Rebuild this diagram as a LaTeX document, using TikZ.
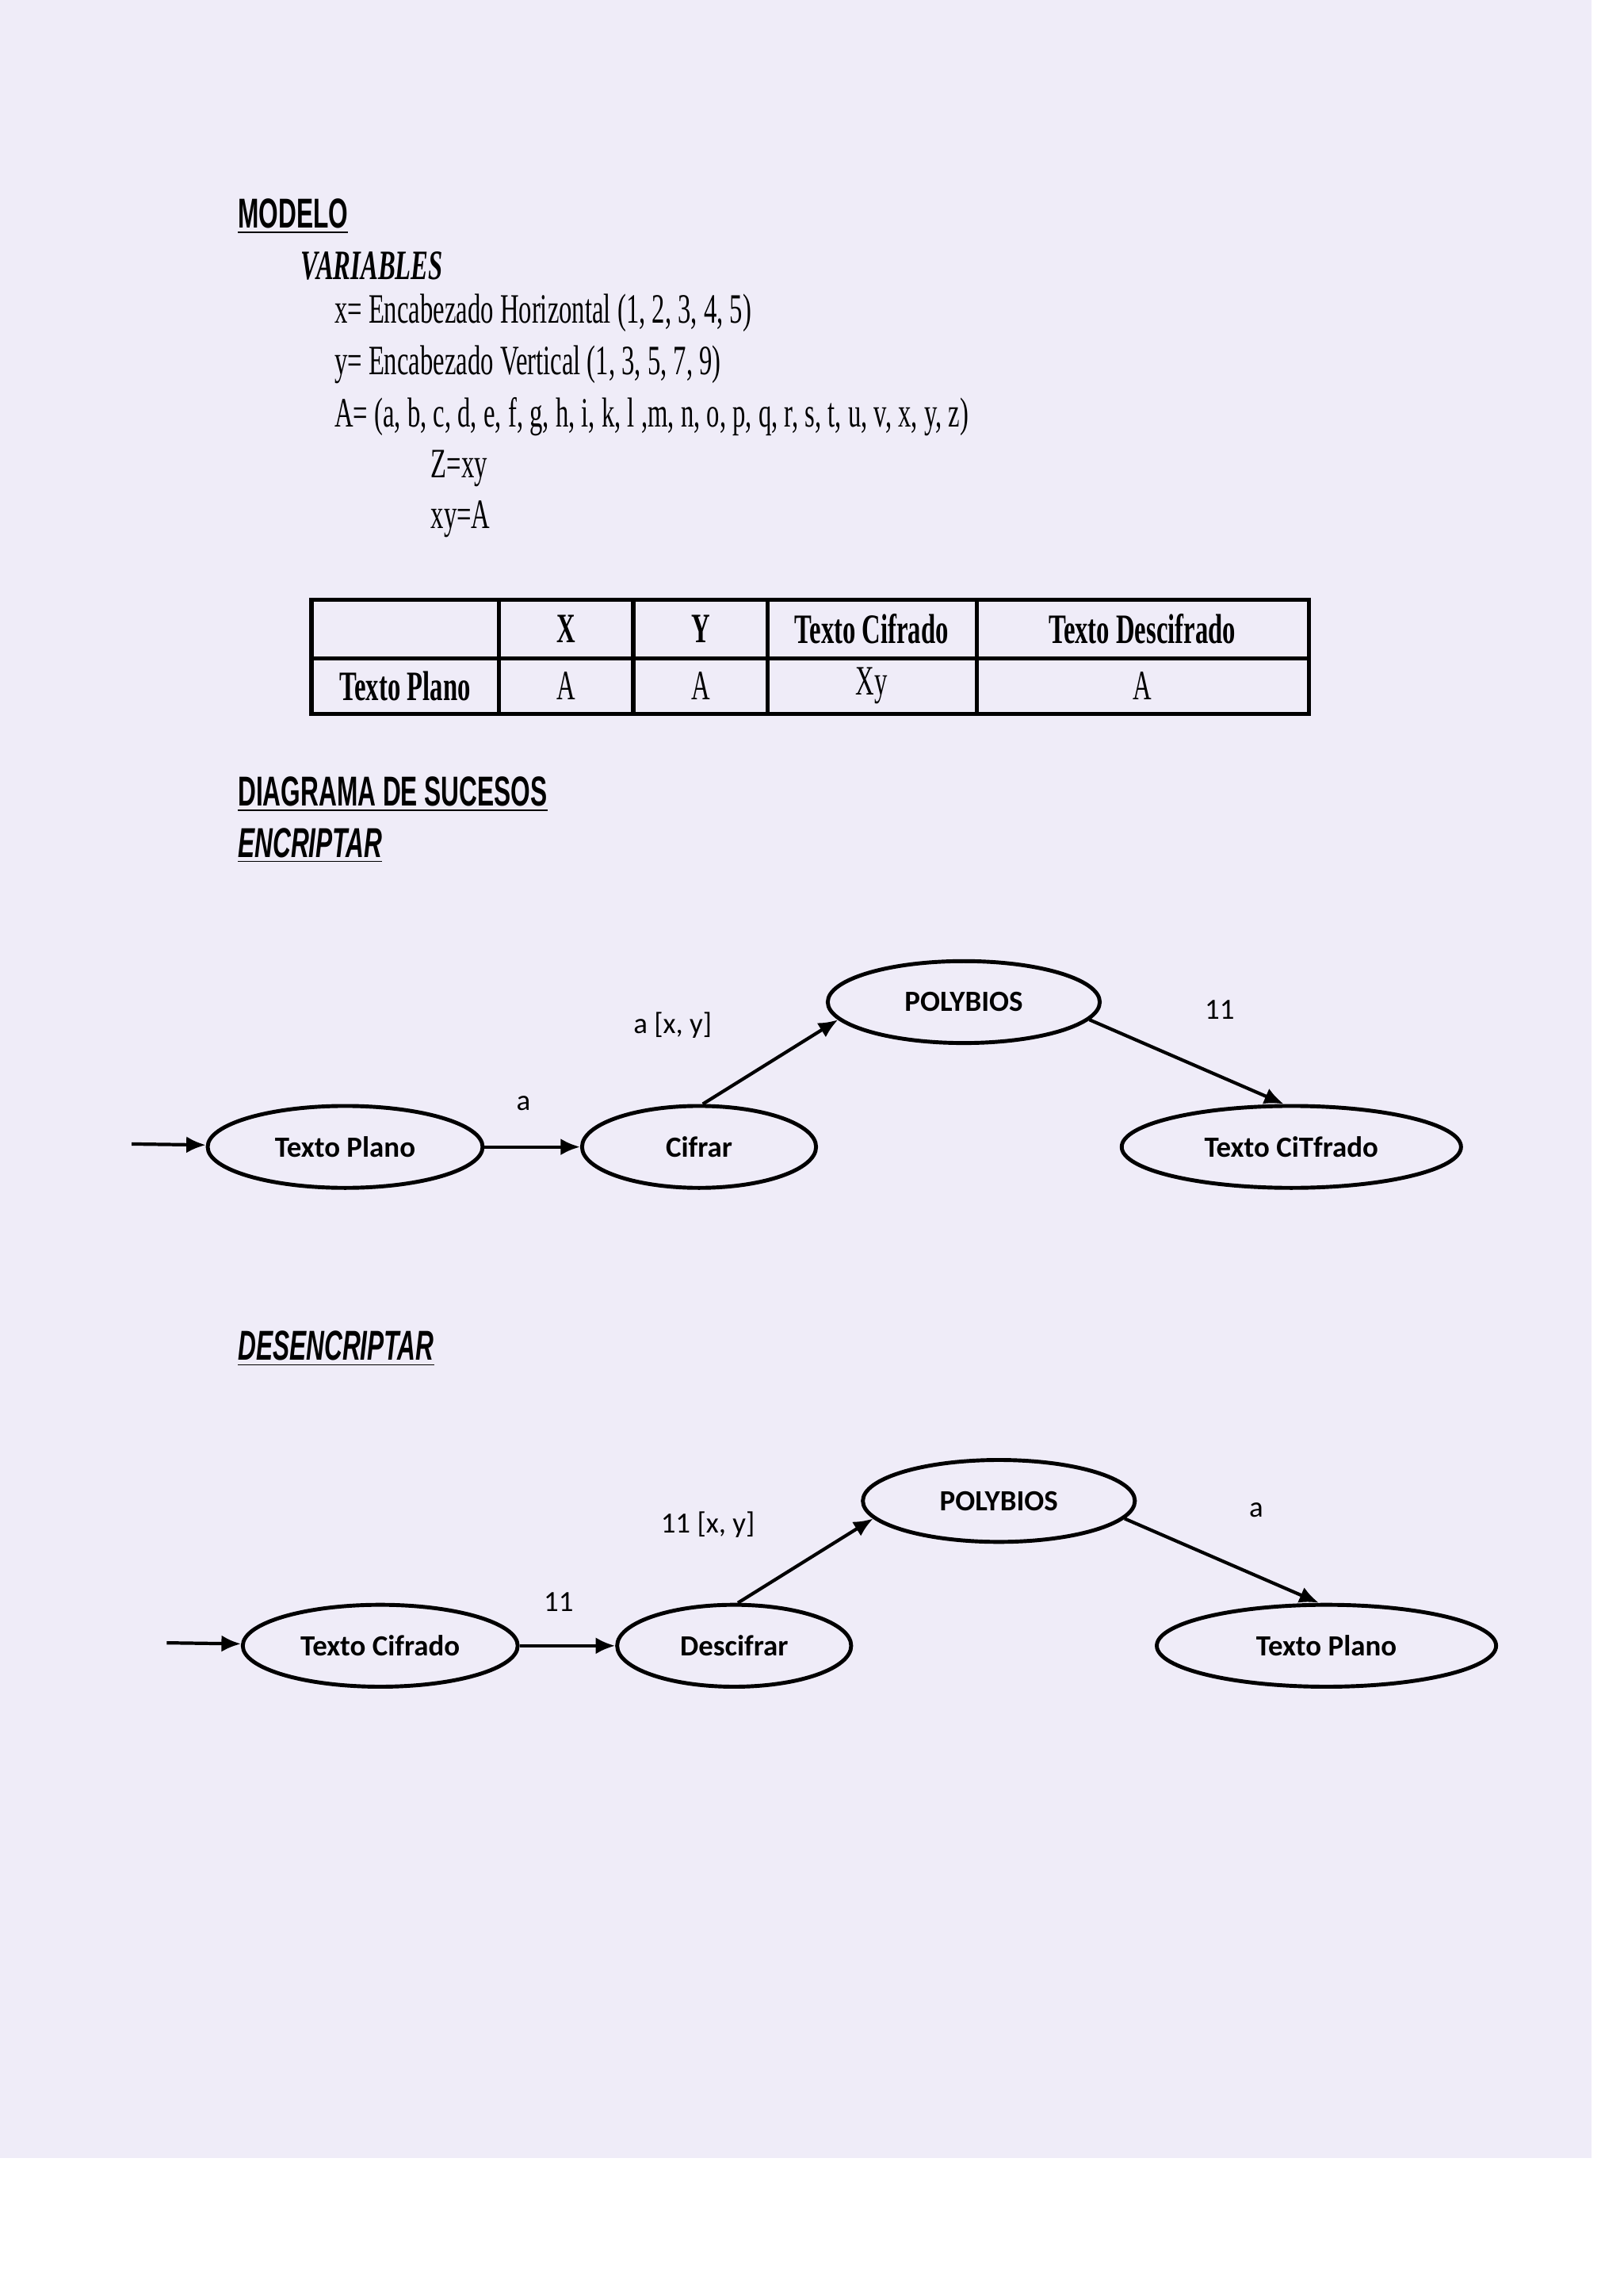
\documentclass[tikz,border=0pt]{standalone}
\usepackage{fontspec}
\setmainfont{Carlito}
\newfontfamily\cond[FakeStretch=0.62]{Liberation Serif}
\newfontfamily\condsans[FakeStretch=0.6]{Liberation Sans}
\usetikzlibrary{arrows.meta,shapes.geometric}
\begin{document}
\begin{tikzpicture}[x=0.01845cm,y=-0.01845cm,
  ev/.style={draw,line width=1.4pt,ellipse,minimum height=0.01845cm*56,inner sep=0pt,font=\fontsize{10.5}{12}\selectfont\bfseries},
  arr/.style={-{Latex[length=7pt,width=6pt]},line width=1.2pt},
  lbl/.style={font=\fontsize{10.5}{12}\selectfont},
  tx/.style={anchor=west,font=\cond\fontsize{15}{18}\selectfont},
  hd/.style={anchor=west,font=\condsans\fontsize{15}{18}\selectfont\bfseries}]
\useasboundingbox (0,0) rectangle (1110,1569.5);
\fill[white] (0,0) rectangle (1110,1569.5);
\fill[cyan!8!blue!6] (0,0) rectangle (1088,1475);
\node[hd] (m) at (156,148) {\underline{MODELO}};
\node[tx,font=\cond\fontsize{15}{18}\selectfont\bfseries\itshape] (v) at (199,182) {VARIABLES};
\node[tx] (l1) at (222,214) {x= Encabezado Horizontal (1, 2, 3, 4, 5)};
\node[tx] (l2) at (222,249) {y= Encabezado Vertical (1, 3, 5, 7, 9)};
\node[tx] (l3) at (222,285) {A= (a, b, c, d, e, f, g, h, i, k, l ,m, n, o, p, q, r, s, t, u, v, x, y, z)};
\node[tx] (l4) at (288,320) {Z=xy};
\node[tx] (l5) at (288,355) {xy=A};
% table
\draw[line width=1.5pt] (213,410) rectangle (895,488);
\draw[line width=1.5pt] (213,450) -- (895,450);
\foreach \c in {341,433,525,668} \draw[line width=1.5pt] (\c,410) -- (\c,488);
\begin{scope}[every node/.style={font=\cond\fontsize{15}{18}\selectfont}]
\node[font=\cond\fontsize{15}{18}\selectfont\bfseries] (h1) at (387,430) {X};
\node[font=\cond\fontsize{15}{18}\selectfont\bfseries] (h2) at (479,430) {Y};
\node[font=\cond\fontsize{15}{18}\selectfont\bfseries] (h3) at (596,430) {Texto Cifrado};
\node[font=\cond\fontsize{15}{18}\selectfont\bfseries] (h4) at (781,430) {Texto Descifrado};
\node[font=\cond\fontsize{15}{18}\selectfont\bfseries] (r0) at (277,469) {Texto Plano};
\node (r1) at (387,469) {A};
\node (r2) at (479,469) {A};
\node (r3) at (596,469) {Xy};
\node (r4) at (781,469) {A};
\end{scope}
\node[hd] (d) at (156,543) {\underline{DIAGRAMA DE SUCESOS}};
\node[hd,font=\condsans\fontsize{15}{18}\selectfont\bfseries\itshape] (e) at (156,578) {\underline{ENCRIPTAR}};
\node[hd,font=\condsans\fontsize{15}{18}\selectfont\bfseries\itshape] (de) at (156,922) {\underline{DESENCRIPTAR}};
% diagram 1
\node[ev,minimum width=0.01845cm*188] (tp) at (236,784) {Texto Plano};
\node[ev,minimum width=0.01845cm*160] (cf) at (478,784) {Cifrar};
\node[ev,minimum width=0.01845cm*186] (po) at (659,685) {POLYBIOS};
\node[ev,minimum width=0.01845cm*232] (tc) at (883,784) {Texto CiTfrado};
\coordinate (s1) at (90,782);
\draw[arr] (s1) -- (tp);
\draw[arr] (tp) -- (cf);
\draw[arr] (cf.85) -- (po.188);
\draw[arr] (po.352) -- (tc.100);
\node[lbl] (a1) at (358,754) {a};
\node[lbl] (a2) at (460,701) {a [x, y]};
\node[lbl] (a3) at (834,690) {11};
% diagram 2
\node[ev,minimum width=0.01845cm*188] (tc2) at (260,1125) {Texto Cifrado};
\node[ev,minimum width=0.01845cm*160] (ds) at (502,1125) {Descifrar};
\node[ev,minimum width=0.01845cm*186] (po2) at (683,1026) {POLYBIOS};
\node[ev,minimum width=0.01845cm*232] (tp2) at (907,1125) {Texto Plano};
\coordinate (s2) at (114,1123);
\draw[arr] (s2) -- (tc2);
\draw[arr] (tc2) -- (ds);
\draw[arr] (ds.85) -- (po2.188);
\draw[arr] (po2.352) -- (tp2.100);
\node[lbl] (b1) at (382,1095) {11};
\node[lbl] (b2) at (484,1042) {11 [x, y]};
\node[lbl] (b3) at (859,1032) {a};
\end{tikzpicture}
\end{document}
